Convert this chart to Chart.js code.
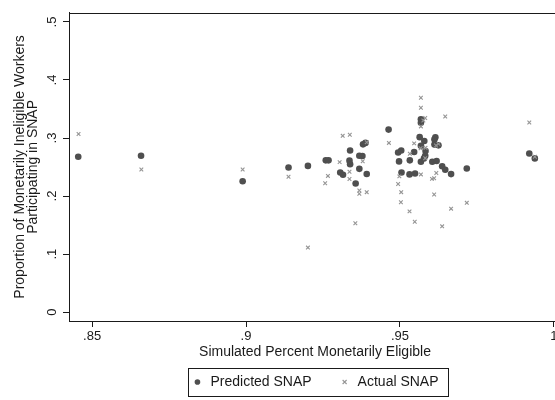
<!DOCTYPE html>
<html>
<head>
<meta charset="utf-8">
<script src="https://cdn.jsdelivr.net/npm/chart.js@4"></script>
<style>
  html, body { margin: 0; padding: 0; background: #fff; overflow: hidden; }
  #wrap { width: 600px; height: 400px; }
</style>
</head>
<body>
<div id="wrap"><canvas id="snap" width="600" height="400"></canvas></div>
<script>
// Simulated share monetarily eligible (x) vs. share of ineligible workers in SNAP (y)
const predictedX = [0.8455, 0.8659, 0.8989, 0.9138, 0.9201, 0.9259, 0.9268, 0.9338, 0.9336, 0.9338,
  0.9306, 0.9315, 0.9368, 0.9378, 0.9368, 0.9380, 0.9388, 0.9392, 0.9356, 0.9463,
  0.9494, 0.9504, 0.9497, 0.9505, 0.9531, 0.9549, 0.9532, 0.9546, 0.9568, 0.9568,
  0.9564, 0.9579, 0.9568, 0.9583, 0.9582, 0.9568, 0.9615, 0.9612, 0.9612, 0.9625,
  0.9605, 0.9619, 0.9637, 0.9647, 0.9666, 0.9717, 0.9920, 0.9938, 0.9578];
const predictedY = [0.2678, 0.2695, 0.2254, 0.2492, 0.2520, 0.2615, 0.2615, 0.2785, 0.2610, 0.2548,
  0.2407, 0.2368, 0.2695, 0.2690, 0.2469, 0.2891, 0.2916, 0.2381, 0.2216, 0.3145,
  0.2751, 0.2785, 0.2597, 0.2407, 0.2373, 0.2390, 0.2615, 0.2760, 0.3324, 0.3264,
  0.3015, 0.2950, 0.2865, 0.2777, 0.2695, 0.2590, 0.3013, 0.2976, 0.2887, 0.2874,
  0.2590, 0.2605, 0.2514, 0.2454, 0.2378, 0.2475, 0.2734, 0.2649, 0.2649];

const actualX = [0.8456, 0.8660, 0.8989, 0.9138, 0.9201, 0.9257, 0.9266, 0.9314, 0.9337, 0.9304,
  0.9336, 0.9336, 0.9379, 0.9392, 0.9368, 0.9368, 0.9392, 0.9355, 0.9464, 0.9498,
  0.9494, 0.9504, 0.9503, 0.9531, 0.9548, 0.9546, 0.9532, 0.9568, 0.9568, 0.9582,
  0.9568, 0.9647, 0.9567, 0.9583, 0.9582, 0.9568, 0.9617, 0.9625, 0.9618, 0.9611,
  0.9604, 0.9611, 0.9637, 0.9666, 0.9717, 0.9920, 0.9938, 0.9576];
const actualY = [0.3069, 0.2458, 0.2458, 0.2334, 0.1112, 0.2220, 0.2347, 0.3038, 0.3057, 0.2585,
  0.2420, 0.2293, 0.2599, 0.2928, 0.2096, 0.2041, 0.2067, 0.1532, 0.2916, 0.2339,
  0.2208, 0.2067, 0.1894, 0.1736, 0.1557, 0.2908, 0.2729, 0.3694, 0.3522, 0.3346,
  0.3200, 0.3370, 0.2823, 0.2831, 0.2653, 0.2373, 0.2870, 0.2899, 0.2398, 0.2308,
  0.2296, 0.2028, 0.1478, 0.1783, 0.1883, 0.3268, 0.2678, 0.3302];

const xTicks = [0.85, 0.9, 0.95, 1];
const xTickLabels = ['.85', '.9', '.95', '1'];
const yTicks = [0, 0.1, 0.2, 0.3, 0.4, 0.5];
const yTickLabels = ['0', '.1', '.2', '.3', '.4', '.5'];

const seriesNames = ['Predicted SNAP', 'Actual SNAP'];
const xTitle = 'Simulated Percent Monetarily Eligible';
const yTitle = ['Proportion of Monetarily Ineligible Workers', 'Participating in SNAP'];

const toPoints = (xs, ys) => xs.map((x, i) => ({ x, y: ys[i] }));

const INK = '#1a1a1a';
const FONT = "'Liberation Sans', Arial, sans-serif";

// plot region outline + legend frame (Stata style)
const framePlugin = {
  id: 'frame',
  afterDraw(chart) {
    const { ctx, chartArea: a } = chart;
    ctx.save();
    ctx.strokeStyle = INK;
    ctx.lineWidth = 1;
    ctx.strokeRect(Math.round(a.left) + 0.5, Math.round(a.top) + 0.5,
      Math.round(a.right - a.left), Math.round(a.bottom - a.top));

    const boxes = chart.legend && chart.legend.legendHitBoxes;
    if (boxes && boxes.length) {
      const left = Math.min(...boxes.map(b => b.left)) - 3;
      const right = Math.max(...boxes.map(b => b.left + b.width)) + 10;
      const mid = boxes[0].top + boxes[0].height / 2;
      ctx.strokeRect(Math.round(left) + 0.5, Math.round(mid - 14) + 0.5,
        Math.round(right - left), 28);
    }
    ctx.restore();
  },
};

const ctx = document.getElementById('snap').getContext('2d');

new Chart(ctx, {
  type: 'scatter',
  data: {
    datasets: [
      {
        label: seriesNames[0],
        data: toPoints(predictedX, predictedY),
        order: 2,
        pointStyle: 'circle',
        pointRadius: 3.3,
        pointHoverRadius: 3.3,
        backgroundColor: '#4f4f4f',
        borderColor: '#4f4f4f',
        borderWidth: 0,
      },
      {
        label: seriesNames[1],
        data: toPoints(actualX, actualY),
        order: 1,
        pointStyle: 'crossRot',
        pointRadius: 2.6,
        pointHoverRadius: 2.6,
        backgroundColor: '#959595',
        borderColor: '#959595',
        borderWidth: 1.1,
      },
    ],
  },
  options: {
    responsive: false,
    animation: false,
    layout: { padding: { top: 8, left: 0, right: 39, bottom: 1 } },
    plugins: {
      tooltip: { enabled: false },
      legend: {
        position: 'bottom',
        fullSize: false,
        labels: {
          color: INK,
          font: { family: FONT, size: 14 },
          usePointStyle: true,
          boxWidth: 12,
          boxHeight: 4,
          padding: 27,
          sort: (a, b) => a.datasetIndex - b.datasetIndex,
        },
      },
    },
    scales: {
      x: {
        type: 'linear',
        min: 0.8425,
        max: 1.0023,
        afterBuildTicks: s => { s.ticks = xTicks.map(v => ({ value: v })); },
        afterFit: s => { s.height = 27; },
        border: { display: true, color: INK, width: 1 },
        grid: { drawOnChartArea: false, drawTicks: true, tickLength: 6, color: INK },
        ticks: {
          color: INK,
          padding: 2,
          maxRotation: 0,
          font: { family: FONT, size: 13 },
          callback: (v, i) => xTickLabels[i],
        },
        title: {
          display: true,
          text: xTitle,
          color: INK,
          font: { family: FONT, size: 14 },
          padding: { top: 0, bottom: -12.4 },
        },
      },
      y: {
        type: 'linear',
        min: -0.0153,
        max: 0.5158,
        afterBuildTicks: s => { s.ticks = yTicks.map(v => ({ value: v })); },
        afterFit: s => { s.width = 69; },
        border: { display: true, color: INK, width: 1 },
        grid: { drawOnChartArea: false, drawTicks: true, tickLength: 6, color: INK },
        ticks: {
          color: INK,
          padding: 5,
          minRotation: 90,
          maxRotation: 90,
          crossAlign: 'center',
          font: { family: FONT, size: 13 },
          callback: (v, i) => yTickLabels[i],
        },
        title: {
          display: true,
          text: yTitle,
          color: INK,
          font: { family: FONT, size: 14, lineHeight: '13px' },
          padding: { top: 13.5, bottom: 0 },
        },
      },
    },
  },
  plugins: [framePlugin],
});
</script>
</body>
</html>
